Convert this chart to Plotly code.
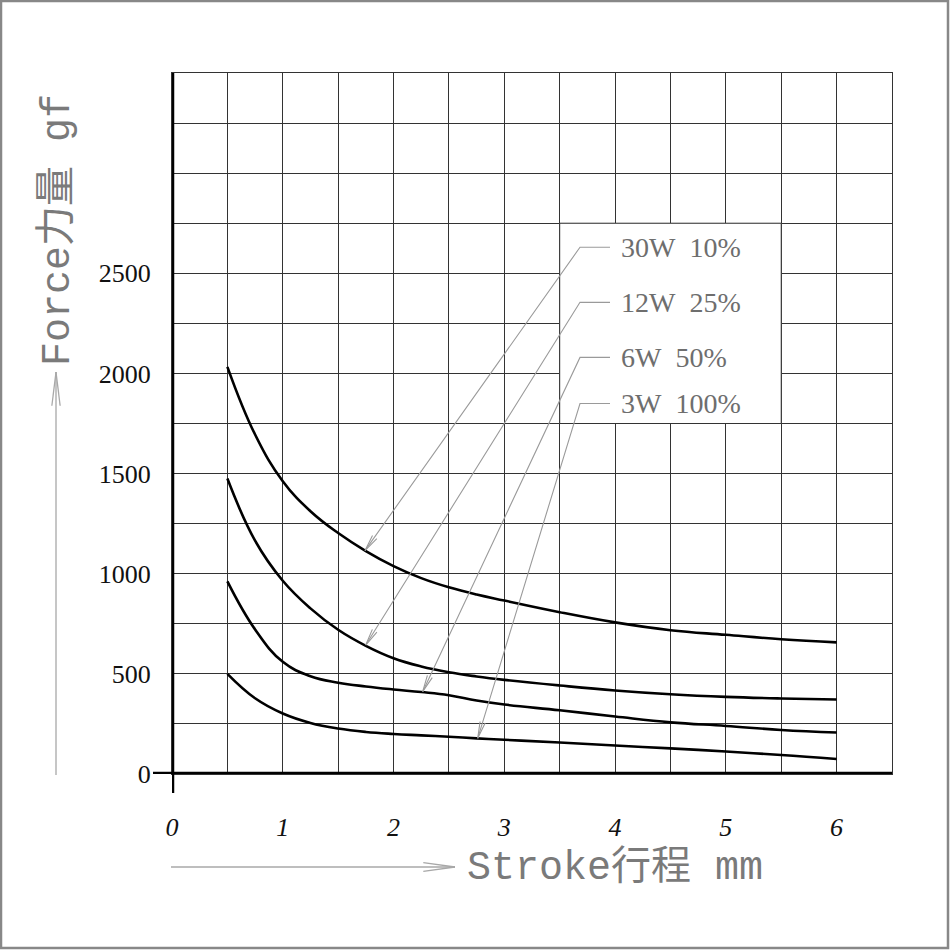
import math
import plotly.graph_objects as go

# ---------------- data ----------------
stroke = [0.5, 0.75, 1.0, 1.25, 1.5, 1.75, 2.0, 2.25, 2.5, 2.75, 3.0, 3.5, 4.0, 4.5, 5.0, 5.5, 6.0]
force_30w = [2033, 1695, 1462, 1312, 1203, 1113, 1038, 978, 932, 896, 866, 808, 757, 718, 695, 673, 657]
force_12w = [1475, 1165, 965, 827, 720, 640, 578, 537, 508, 487, 470, 442, 417, 398, 385, 377, 372]
force_6w = [962, 722, 560, 488, 456, 437, 422, 409, 393, 367, 347, 318, 287, 258, 240, 220, 207]
force_3w = [500, 378, 302, 255, 227, 210, 200, 193, 186, 178, 171, 157, 142, 128, 112, 95, 75]

series_labels = ["30W\u00a0\u00a010%", "12W\u00a0\u00a025%", "6W\u00a0\u00a050%", "3W\u00a0\u00a0100%"]
series_values = [force_30w, force_12w, force_6w, force_3w]
# leader lines: label row height (gf) and arrow tip on curve (mm, gf)
label_rows = [2630, 2355, 2080, 1850]
tip_x = [1.742, 1.749, 2.263, 2.760]
tip_y = [1115, 644, 411, 178]

x_tickvals = [i * 0.5 for i in range(14)]
x_ticktext = [str(int(v)) if v == int(v) and v <= 6 else "" for v in x_tickvals]
y_tickvals = [i * 250 for i in range(15)]
y_ticktext = [str(v) if v % 500 == 0 and v <= 2500 else "" for v in y_tickvals]

# ---------------- geometry ----------------
W, H = 950, 950
L, T = 172, 73
PW, PH = 720, 701
XMAX, YMAX = 6.5, 3500


def to_px(x, y):
    return L + x / XMAX * PW, T + PH - y / YMAX * PH


def from_px(px, py):
    return (px - L) / PW * XMAX, (T + PH - py) / PH * YMAX


def px_to_paper(px, py):
    return (px - L) / PW, (T + PH - py) / PH


def chevron(tip_px, from_px_pt, length, half_angle_deg):
    tx, ty = tip_px
    fx, fy = from_px_pt
    dx, dy = fx - tx, fy - ty
    n = math.hypot(dx, dy)
    ux, uy = dx / n, dy / n
    a = math.radians(half_angle_deg)
    pts = []
    for s in (1, -1):
        ca, sa = math.cos(s * a), math.sin(s * a)
        rx, ry = ux * ca - uy * sa, ux * sa + uy * ca
        pts.append((tx + rx * length, ty + ry * length))
    return pts


fig = go.Figure()

# white label box hiding the grid
fig.add_shape(type="rect", xref="x", yref="y", x0=3.5, x1=5.5, y0=1750, y1=2750,
              fillcolor="white", line=dict(color="#333", width=1), layer="between")

for vals in series_values:
    fig.add_trace(go.Scatter(x=stroke, y=vals, mode="lines",
                             line=dict(color="black", width=2.6, shape="spline", smoothing=1.2),
                             hoverinfo="skip", showlegend=False))

elbow_px = 580
end_px = 610
text_px = 619
lead_color = "#9a9a9a"
for lab, ry, txx, tyy in zip(series_labels, label_rows, tip_x, tip_y):
    ex, _ = from_px(elbow_px, 0)
    enx, _ = from_px(end_px, 0)
    fig.add_trace(go.Scatter(x=[enx, ex, txx], y=[ry, ry, tyy], mode="lines",
                             line=dict(color=lead_color, width=1.1),
                             hoverinfo="skip", showlegend=False))
    tpx = to_px(txx, tyy)
    epx = to_px(ex, ry)
    arms = chevron(tpx, epx, 17, 9)
    a1 = from_px(*arms[0])
    a2 = from_px(*arms[1])
    fig.add_trace(go.Scatter(x=[a1[0], txx, a2[0]], y=[a1[1], tyy, a2[1]], mode="lines",
                             line=dict(color=lead_color, width=1.1),
                             hoverinfo="skip", showlegend=False))
    tx_data, _ = from_px(text_px, 0)
    fig.add_annotation(x=tx_data, y=ry, xref="x", yref="y", text=lab, showarrow=False,
                       xanchor="left", yanchor="middle",
                       font=dict(family="Liberation Serif, serif", size=28, color="#6e6e6e"))

shapes = []
# thick axes (cross at origin)
x0p, _ = px_to_paper(153, 0)
_, y0p = px_to_paper(0, 793)
shapes.append(dict(type="line", xref="paper", yref="y", x0=x0p, x1=1, y0=0, y1=0,
                   line=dict(color="black", width=4.5)))
shapes.append(dict(type="line", xref="x", yref="paper", x0=0, x1=0, y0=y0p, y1=1.0,
                   line=dict(color="black", width=4.5)))

# outer border
bx0, by1 = px_to_paper(1, 1)
bx1, by0 = px_to_paper(948, 948)
shapes.append(dict(type="rect", xref="paper", yref="paper", x0=bx0, x1=bx1, y0=by0, y1=by1,
                   line=dict(color="#888", width=2.5)))

# title arrows
arrow_gray = "#a8a8a8"
vb = px_to_paper(56, 775)
vt = px_to_paper(56, 372)
shapes.append(dict(type="line", xref="paper", yref="paper", x0=vb[0], y0=vb[1], x1=vt[0], y1=vt[1],
                   line=dict(color=arrow_gray, width=1.3)))
for arm in chevron((56, 372), (56, 775), 34, 7):
    ap = px_to_paper(*arm)
    shapes.append(dict(type="line", xref="paper", yref="paper", x0=vt[0], y0=vt[1], x1=ap[0], y1=ap[1],
                       line=dict(color=arrow_gray, width=1.3)))
hl = px_to_paper(171, 867)
hr = px_to_paper(455, 867)
shapes.append(dict(type="line", xref="paper", yref="paper", x0=hl[0], y0=hl[1], x1=hr[0], y1=hr[1],
                   line=dict(color=arrow_gray, width=1.3)))
for arm in chevron((455, 867), (171, 867), 32, 8):
    ap = px_to_paper(*arm)
    shapes.append(dict(type="line", xref="paper", yref="paper", x0=hr[0], y0=hr[1], x1=ap[0], y1=ap[1],
                       line=dict(color=arrow_gray, width=1.3)))

for s in shapes:
    fig.add_shape(**s)

title_font = dict(family="Liberation Mono, Noto Sans CJK SC, monospace", size=40, color="#7a7a7a")
xt = px_to_paper(465, 868)
fig.add_annotation(x=xt[0], y=xt[1], xref="paper", yref="paper", text="Stroke行程 mm",
                   showarrow=False, xanchor="left", yanchor="middle", font=title_font)
yt = px_to_paper(58, 230)
fig.add_annotation(x=yt[0], y=yt[1], xref="paper", yref="paper", text="Force力量 gf",
                   showarrow=False, xanchor="center", yanchor="middle", textangle=-90, font=title_font)

fig.update_layout(
    width=W, height=H,
    margin=dict(l=L, r=W - L - PW, t=T, b=H - T - PH, pad=0),
    paper_bgcolor="white", plot_bgcolor="white",
    showlegend=False,
    xaxis=dict(range=[0, XMAX], tickvals=x_tickvals, ticktext=x_ticktext,
               showgrid=True, gridcolor="#333", gridwidth=1, zeroline=False,
               showline=True, mirror=True, linecolor="#333", linewidth=1,
               ticks="", ticklabelstandoff=30,
               tickfont=dict(family="Liberation Serif, serif", size=26, color="#111", style="italic"),
               fixedrange=True),
    yaxis=dict(range=[0, YMAX], tickvals=y_tickvals, ticktext=y_ticktext,
               showgrid=True, gridcolor="#333", gridwidth=1, zeroline=False,
               showline=True, mirror=True, linecolor="#333", linewidth=1,
               ticks="", ticklabelstandoff=15,
               tickfont=dict(family="Liberation Serif, serif", size=26, color="#111"),
               fixedrange=True),
)

fig.write_html("out.html", config={"displayModeBar": False},
               post_script="document.body.style.margin='0';document.body.style.overflow='hidden';")
